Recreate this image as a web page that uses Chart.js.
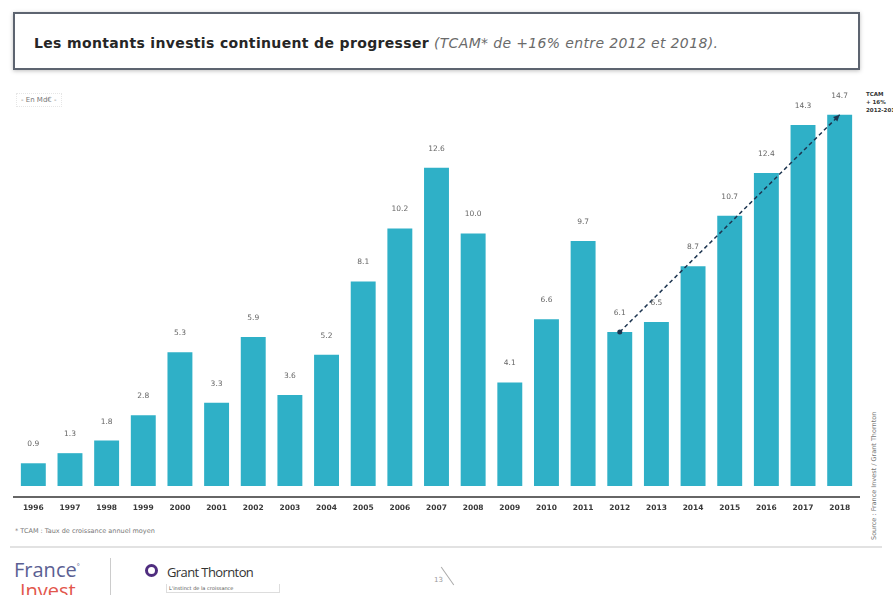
<!DOCTYPE html>
<html lang="fr">
<head>
<meta charset="utf-8"/>
<title>Montants investis 1996-2018</title>
<script src="https://cdn.jsdelivr.net/npm/chart.js"></script>
<style>
  body {
    margin: 0;
    width: 893px;
    height: 595px;
    overflow: hidden;
    position: relative;
    background: #fff;
    font-family: 'DejaVu Sans', sans-serif;
  }
  .titre {
    position: absolute;
    left: 13px; top: 12px;
    width: 847px; height: 58px;
    border: 2px solid #5d6470;
    box-shadow: 0 1px 4px rgba(0,0,0,0.25);
    box-sizing: border-box;
  }
  .titre span.b {
    position: absolute; left: 19px; top: 21px;
    font-size: 14px; letter-spacing: 0.35px; color: #262626; white-space: nowrap;
  }
  .titre b { font-weight: bold; }
  .titre i { color: #6a6a6a; font-style: italic; }
  .unite {
    position: absolute; left: 16px; top: 93px;
    padding: 2px 4px;
    border: 1px dotted #e6e6e6;
    font-size: 7px; color: #777;
  }
  .tcam {
    position: absolute; left: 866px; top: 90px;
    font-size: 5.5px; line-height: 8px; color: #333; text-align: left;
    white-space: nowrap; font-weight: bold;
  }
  .source {
    position: absolute; left: 870px; top: 540px;
    transform-origin: 0 0; transform: rotate(-90deg);
    font-size: 6.5px; color: #777; white-space: nowrap;
  }
  .note {
    position: absolute; left: 15px; top: 527px;
    font-size: 6.5px; color: #777;
  }
  .sep {
    position: absolute; left: 10px; top: 546px;
    width: 872px; height: 2px; background: #e2e2e2;
  }
  canvas { position: absolute; left: 0; top: 82px; }
  .fi1 {
    position: absolute; left: 14px; top: 556px;
    font-size: 20px; color: #5b5f93; font-family: 'Open Sans', sans-serif;
  }
  .fi2 {
    position: absolute; left: 20px; top: 577px;
    font-size: 20px; color: #e2574c; font-family: 'Open Sans', sans-serif;
  }
  .div { position: absolute; left: 110px; top: 558px; width: 1px; height: 37px; background: #ccc; }
  .gt-logo {
    position: absolute; left: 145px; top: 564px;
    width: 7px; height: 7px; border: 3px solid #4f2d7f; border-radius: 50%;
  }
  .gt {
    position: absolute; left: 167px; top: 563px;
    font-size: 13px; color: #333; letter-spacing: -0.6px; font-family: 'Open Sans', sans-serif;
  }
  .gt-sub {
    position: absolute; left: 166px; top: 584px;
    width: 108px; border: 1px solid #ddd; border-top: none;
    font-size: 5px; color: #555; padding: 1px 2px;
  }
  .page {
    position: absolute; left: 434px; top: 576px;
    font-size: 7px; color: #999;
  }
  .page-trait {
    position: absolute; left: 447px; top: 565px;
    width: 1px; height: 22px; background: #aaa; transform: rotate(-35deg);
  }
</style>
</head>
<body>
<div class="titre"><span class="b"><b>Les montants investis continuent de progresser</b> <i>(TCAM* de +16% entre 2012 et 2018).</i></span></div>
<div class="unite">- En Md€ -</div>
<div class="tcam">TCAM<br/>+ 16%<br/>2012-2018</div>
<div class="source">Source : France Invest / Grant Thornton</div>
<canvas id="graph" width="893" height="434"></canvas>
<div class="note">* TCAM : Taux de croissance annuel moyen</div>
<div class="sep"></div>
<div class="fi1">France<sup style="font-size:7px">°</sup></div>
<div class="fi2">Invest</div>
<div class="div"></div>
<div class="gt-logo"></div>
<div class="gt">Grant Thornton</div>
<div class="gt-sub">L'instinct de la croissance</div>
<div class="page">13</div>
<div class="page-trait"></div>

<script>
  // montants investis, en milliards d'euros
  const annees = ['1996','1997','1998','1999','2000','2001','2002','2003','2004','2005','2006','2007',
                  '2008','2009','2010','2011','2012','2013','2014','2015','2016','2017','2018'];
  const montants = [0.9, 1.3, 1.8, 2.8, 5.3, 3.3, 5.9, 3.6, 5.2, 8.1, 10.2, 12.6,
                    10.0, 4.1, 6.6, 9.7, 6.1, 6.5, 8.7, 10.7, 12.4, 14.3, 14.7];
  // bornes de la flèche TCAM
  const tcamBornes = ['2012', '2018'];
  const tendance = annees.map((a, i) => tcamBornes.includes(a) ? montants[i] : null);

  // valeurs au-dessus des barres
  const etiquettes = {
    id: 'etiquettes',
    afterDatasetsDraw(chart) {
      const ctx = chart.ctx;
      const meta = chart.getDatasetMeta(0);
      ctx.save();
      ctx.font = '7.5px "DejaVu Sans", sans-serif';
      ctx.fillStyle = '#666';
      ctx.textAlign = 'center';
      ctx.textBaseline = 'middle';
      meta.data.forEach((bar, i) => {
        ctx.fillText(montants[i].toFixed(1), bar.x, bar.y - 19);
      });
      ctx.restore();
    }
  };

  // trait de l'axe sous les barres + pointe de flèche
  const decor = {
    id: 'decor',
    afterDraw(chart) {
      const ctx = chart.ctx;
      const area = chart.chartArea;
      ctx.save();
      ctx.strokeStyle = '#333';
      ctx.lineWidth = 1.5;
      ctx.beginPath();
      ctx.moveTo(13, area.bottom + 11);
      ctx.lineTo(860, area.bottom + 11);
      ctx.stroke();

      const pts = chart.getDatasetMeta(1).data.filter((p, i) => tendance[i] !== null);
      const a = pts[0], b = pts[pts.length - 1];
      const ang = Math.atan2(b.y - a.y, b.x - a.x);
      ctx.fillStyle = '#1d3550';
      ctx.beginPath();
      ctx.moveTo(b.x, b.y);
      ctx.lineTo(b.x - 7 * Math.cos(ang - 0.45), b.y - 7 * Math.sin(ang - 0.45));
      ctx.lineTo(b.x - 7 * Math.cos(ang + 0.45), b.y - 7 * Math.sin(ang + 0.45));
      ctx.closePath();
      ctx.fill();
      ctx.beginPath();
      ctx.arc(a.x, a.y, 2.5, 0, Math.PI * 2);
      ctx.fill();
      ctx.restore();
    }
  };

  new Chart(document.getElementById('graph'), {
    type: 'bar',
    data: {
      labels: annees,
      datasets: [{
        data: montants,
        backgroundColor: '#2fb0c7',
        barPercentage: 0.68,
        categoryPercentage: 1.0,
        order: 1
      }, {
        type: 'line',
        data: tendance,
        spanGaps: true,
        borderColor: '#1d3550',
        borderWidth: 1.5,
        borderDash: [4, 3],
        pointRadius: 0,
        fill: false,
        order: 0
      }]
    },
    options: {
      responsive: false,
      animation: false,
      layout: { padding: { left: 15, right: 35, top: 0, bottom: 0 } },
      plugins: { legend: { display: false }, tooltip: { enabled: false } },
      scales: {
        x: {
          grid: { display: false, drawTicks: false },
          border: { display: false },
          ticks: {
            color: '#3a3a3a',
            font: { size: 7.5, weight: 'bold', family: '"DejaVu Sans", sans-serif' },
            padding: 18,
            maxRotation: 0,
            autoSkip: false
          },
          afterFit(scale) { scale.height = 30; }
        },
        y: { display: false, min: 0, max: 16 }
      }
    },
    plugins: [etiquettes, decor]
  });
</script>
</body>
</html>
